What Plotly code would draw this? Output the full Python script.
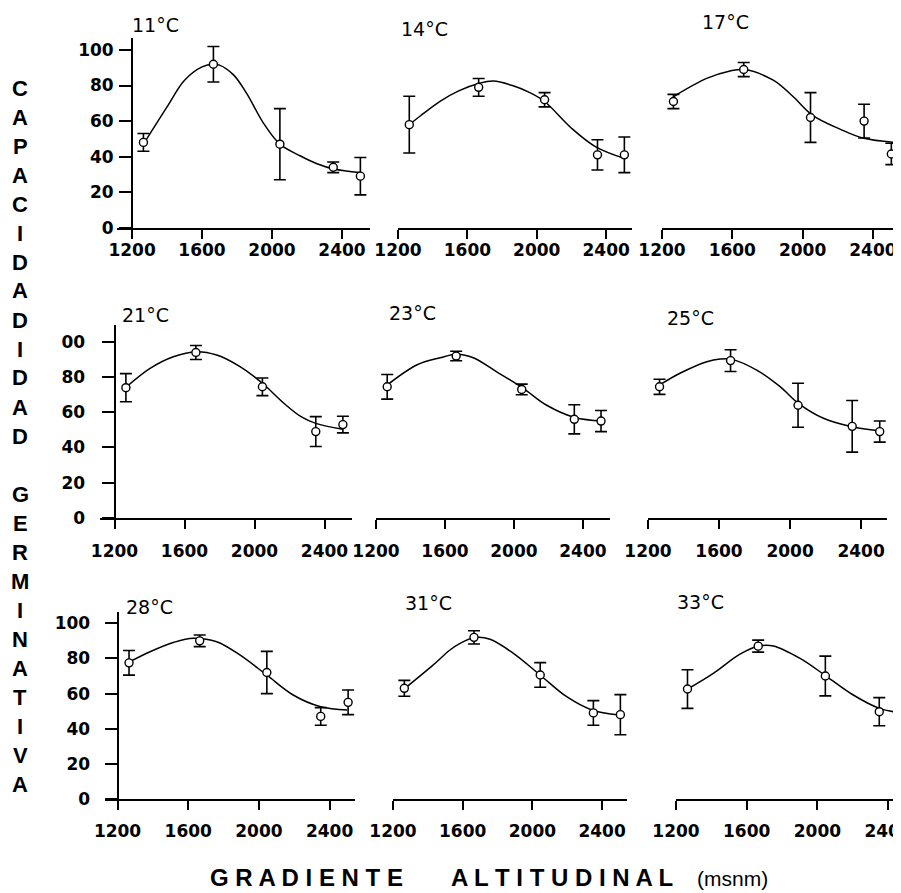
import plotly.graph_objects as go

# The page body has an 8px default margin, so every reference pixel position
# is shifted by OFF and the figure is made 8px smaller to fit the window.
OFF = 8
W, H = 901 - OFF, 893 - OFF

# ---------------- data ----------------
ALTITUD = [1265, 1665, 2045, 2350, 2505]
ALTITUD_33 = [1265, 1665, 2045, 2350]
TICKS_X = [1200, 1600, 2000, 2400]
TICKS_Y = [0, 20, 40, 60, 80, 100]
TICKTEXT_Y_R1 = ["0", "20", "40", "60", "80", "100"]
TICKTEXT_Y_R2 = ["0", "20", "40", "60", "80", "00"]
TICKTEXT_Y_R3 = ["0", "20", "40", "60", "80", "100"]
TEMPERATURAS = ["11°C", "14°C", "17°C", "21°C", "23°C", "25°C", "28°C", "31°C", "33°C"]

MEDIA_11 = [48, 92, 47, 34, 29]
ERROR_11 = [5, 10, 20, 3, 10.5]
CURVA_X_11 = [1265, 1400, 1500, 1600, 1665, 1700, 1780, 1855, 1950, 2045, 2160, 2257, 2354, 2505]
CURVA_Y_11 = [47, 68, 83, 90.5, 92, 91.5, 86, 75.6, 59, 47, 40.5, 36, 33, 31]

MEDIA_14 = [58, 79, 72, 41, 41]
ERROR_14 = [16, 5, 4, 8.5, 10]
CURVA_X_14 = [1265, 1330, 1440, 1550, 1670, 1750, 1860, 1960, 2045, 2200, 2340, 2505]
CURVA_Y_14 = [58, 63, 71, 77, 81.3, 82.5, 80, 76, 71, 56, 45.5, 39]

MEDIA_17 = [71, 89, 62, 60, 41.5]
ERROR_17 = [4, 4, 14, 9.5, 6]
CURVA_X_17 = [1265, 1454, 1587, 1668, 1833, 1947, 2055, 2213, 2349, 2554]
CURVA_Y_17 = [73.7, 84, 88.2, 89, 83, 73.7, 63.4, 55.5, 50.3, 47.8]

MEDIA_21 = [74, 94, 74.5, 49, 53]
ERROR_21 = [8, 4, 5, 8.5, 4.7]
CURVA_X_21 = [1265, 1403, 1536, 1666, 1784, 1917, 2045, 2169, 2266, 2350, 2504]
CURVA_Y_21 = [74.2, 85, 91.6, 94.5, 92.6, 86, 76.5, 65, 57.5, 53.7, 50.3]

MEDIA_23 = [74.5, 92, 73, 56, 55]
ERROR_23 = [7, 2.7, 3, 8.3, 6]
CURVA_X_23 = [1265, 1436, 1571, 1671, 1764, 1900, 2054, 2190, 2354, 2512]
CURVA_Y_23 = [75.5, 86.9, 91, 93, 91, 83, 73.6, 64, 57, 55]

MEDIA_25 = [74.5, 89.4, 64, 52, 49]
ERROR_25 = [4.3, 6.2, 12.5, 14.7, 6]
CURVA_X_25 = [1268, 1380, 1531, 1606, 1672, 1812, 1944, 2047, 2188, 2348, 2501]
CURVA_Y_25 = [75.7, 82.2, 88.8, 90.3, 90.1, 84, 74.6, 65.1, 56.6, 51.8, 49.5]

MEDIA_28 = [77.5, 90, 72, 47, 55]
ERROR_28 = [7, 3.3, 12, 5, 7]
CURVA_X_28 = [1267, 1384, 1519, 1629, 1761, 1892, 2044, 2194, 2350, 2500]
CURVA_Y_28 = [78, 83.8, 89.2, 91.5, 89.5, 82, 70.6, 59.2, 52.5, 50.7]

MEDIA_31 = [63, 92, 70.6, 49, 48]
ERROR_31 = [4.5, 3.8, 7, 7, 11.4]
CURVA_X_31 = [1269, 1431, 1527, 1585, 1676, 1757, 1891, 2044, 2197, 2341, 2499]
CURVA_Y_31 = [63, 76.3, 84.8, 88.6, 92, 90.9, 82.9, 70.6, 58.2, 50.7, 47.8]

MEDIA_33 = [62.6, 87, 70, 49.7]
ERROR_33 = [11, 3.4, 11.3, 8]
CURVA_X_33 = [1266, 1411, 1562, 1671, 1751, 1902, 2049, 2203, 2351, 2468]
CURVA_Y_33 = [62.6, 71.5, 82.5, 87.1, 87.1, 80, 70, 59.2, 51.6, 49.1]

TITULO_Y = "CAPACIDADIDAD GERMINATIVA"
TITULO_X_1 = "G R A D I E N T E"
TITULO_X_2 = "A L T I T U D I N A L"
TITULO_X_3 = "(msnm)"

# ---------------- layout geometry (reference pixels) ----------------
# rows: (bottom px of x-axis line, top px of y-axis, px per unit)
ROWS = [(227.7, 38, 1.777), (517.7, 325, 1.757), (799, 611.7, 1.757)]
ROW_TICKTEXT = [TICKTEXT_Y_R1, TICKTEXT_Y_R2, TICKTEXT_Y_R3]
# panels: (left px, right px, x range, y-axis px or None, title centre px)
PANELS = [
    (117, 370, (1114, 2560), 132, (155, 25)),
    (398, 632, (1200, 2549), None, (424, 29)),
    (662, 901, (1200, 2560), None, (725, 22)),
    (100, 352, (1117, 2557), 114.5, (145, 315)),
    (376, 610, (1200, 2557), None, (412, 313)),
    (648, 887, (1200, 2546), None, (690, 318)),
    (105, 355, (1129, 2544), 117.5, (149, 607)),
    (393, 627, (1200, 2543), None, (428, 603)),
    (676, 901, (1200, 2473), None, (700, 602)),
]
SERIES = [
    (ALTITUD, MEDIA_11, ERROR_11, CURVA_X_11, CURVA_Y_11),
    (ALTITUD, MEDIA_14, ERROR_14, CURVA_X_14, CURVA_Y_14),
    (ALTITUD, MEDIA_17, ERROR_17, CURVA_X_17, CURVA_Y_17),
    (ALTITUD, MEDIA_21, ERROR_21, CURVA_X_21, CURVA_Y_21),
    (ALTITUD, MEDIA_23, ERROR_23, CURVA_X_23, CURVA_Y_23),
    (ALTITUD, MEDIA_25, ERROR_25, CURVA_X_25, CURVA_Y_25),
    (ALTITUD, MEDIA_28, ERROR_28, CURVA_X_28, CURVA_Y_28),
    (ALTITUD, MEDIA_31, ERROR_31, CURVA_X_31, CURVA_Y_31),
    (ALTITUD_33, MEDIA_33, ERROR_33, CURVA_X_33, CURVA_Y_33),
]


def px(x):
    return (x - OFF) / W


def py(y):
    return 1 - (y - OFF) / H


TICKFONT = dict(family="DejaVu Sans", size=17, color="black", weight="bold")
X_STANDOFF = [-3, 8, 7]
Y_STANDOFF = [2, 13, 11]

fig = go.Figure()
layout = dict(
    width=W, height=H, margin=dict(l=0, r=0, t=0, b=0, pad=0, autoexpand=False),
    paper_bgcolor="white", plot_bgcolor="white", showlegend=False,
)
annotations = []

for i, (panel, serie) in enumerate(zip(PANELS, SERIES)):
    r = i // 3
    left, right, xr, ypx, tpos = panel
    bottom, top, ppu = ROWS[r]
    k = "" if i == 0 else str(i + 1)
    xa, ya = "x" + k, "y" + k
    alt, media, err, cx, cy = serie

    fig.add_trace(go.Scatter(
        x=cx, y=cy, mode="lines", line=dict(color="black", width=1.5, shape="spline", smoothing=1.0),
        xaxis=xa, yaxis=ya, hoverinfo="skip", cliponaxis=True))
    fig.add_trace(go.Scatter(
        x=alt, y=media, mode="markers",
        marker=dict(symbol="circle", size=8, color="white", line=dict(color="black", width=1.4)),
        error_y=dict(type="data", array=err, visible=True, color="black", thickness=1.6, width=6),
        xaxis=xa, yaxis=ya, cliponaxis=False))

    layout["xaxis" + k] = dict(
        domain=[px(left), min(px(right), 1)], range=list(xr), anchor=ya, automargin=False,
        showline=True, linecolor="black", linewidth=1.8, mirror=False,
        ticks="outside", ticklen=9, tickwidth=1.5, tickcolor="black",
        tickvals=TICKS_X, tickfont=TICKFONT, ticklabelstandoff=X_STANDOFF[r],
        ticklabeloverflow="allow",
        showgrid=False, zeroline=False, fixedrange=True)
    yax = dict(
        domain=[py(bottom), py(top)], range=[0, (bottom - top) / ppu], automargin=False,
        showgrid=False, zeroline=False, fixedrange=True)
    if ypx is not None:
        yax.update(anchor="free", position=px(ypx), showline=True, linecolor="black",
                   linewidth=1.8, ticks="outside", ticklen=12, tickwidth=1.5, tickcolor="black",
                   tickvals=TICKS_Y, ticktext=ROW_TICKTEXT[r], tickfont=TICKFONT,
                   ticklabelstandoff=Y_STANDOFF[r])
    else:
        yax.update(anchor=xa, showline=False, showticklabels=False, ticks="")
    layout["yaxis" + k] = yax

    annotations.append(dict(
        text=TEMPERATURAS[i], x=px(tpos[0]), y=py(tpos[1]), xref="paper", yref="paper",
        showarrow=False, xanchor="center", yanchor="middle",
        font=dict(family="DejaVu Sans", size=19, color="black")))

# vertical y-axis title, one letter per line
for j, ch in enumerate(TITULO_Y):
    if ch == " ":
        continue
    annotations.append(dict(
        text=ch, x=px(20), y=py(88 + j * 29), xref="paper", yref="paper",
        showarrow=False, xanchor="center", yanchor="middle",
        font=dict(family="Liberation Sans", size=22, color="black", weight="bold")))

annotations.append(dict(text=TITULO_X_1, x=px(306), y=py(877), xref="paper", yref="paper",
                        showarrow=False, xanchor="center", yanchor="middle",
                        font=dict(family="Liberation Sans", size=24, color="black", weight="bold")))
annotations.append(dict(text=TITULO_X_2, x=px(562), y=py(877), xref="paper", yref="paper",
                        showarrow=False, xanchor="center", yanchor="middle",
                        font=dict(family="Liberation Sans", size=24, color="black", weight="bold")))
annotations.append(dict(text=TITULO_X_3, x=px(732), y=py(878), xref="paper", yref="paper",
                        showarrow=False, xanchor="center", yanchor="middle",
                        font=dict(family="Liberation Sans", size=21, color="black")))

layout["annotations"] = annotations
fig.update_layout(**layout)
fig.write_html("out.html")
